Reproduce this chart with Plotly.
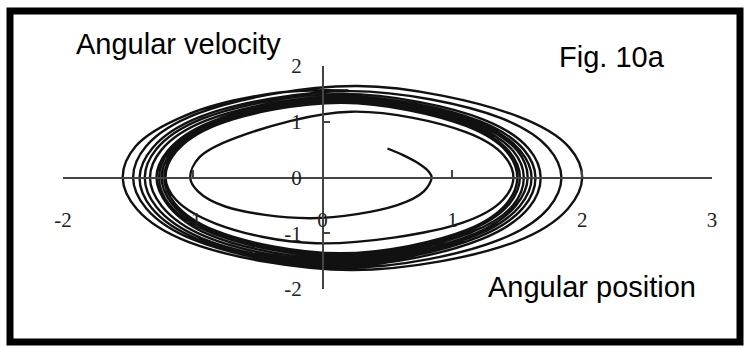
import plotly.graph_objects as go

# Phase-plane trajectory: angular position (x) vs angular velocity (y),
# listed point by point as it spirals outward, clockwise.
start_x = [0.50, 0.62, 0.74, 0.82, 0.84]
start_y = [0.52, 0.40, 0.25, 0.10, 0.00]

loop_x = [
    0.78, 0.57, -0.09, -0.75, -0.96, -1.02,
    -0.95, -0.66, 0.22, 1.11, 1.395, 1.47,
    1.39, 1.08, -0.05, -0.82, -1.13, -1.21,
    -1.13, -0.82, 0.15, 1.11, 1.42, 1.50,
    1.42, 1.11, 0.14, -0.83, -1.14, -1.22,
    -1.14, -0.82, 0.15, 1.12, 1.44, 1.52,
    1.44, 1.12, 0.14, -0.84, -1.16, -1.24,
    -1.16, -0.84, 0.16, 1.15, 1.47, 1.55,
    1.47, 1.14, 0.15, -0.85, -1.18, -1.26,
    -1.18, -0.85, 0.16, 1.17, 1.50, 1.58,
    1.49, 1.17, 0.15, -0.87, -1.19, -1.28,
    -1.19, -0.86, 0.17, 1.19, 1.52, 1.61,
    1.52, 1.18, 0.14, -0.90, -1.24, -1.33,
    -1.24, -0.90, 0.16, 1.21, 1.55, 1.64,
    1.55, 1.20, 0.14, -0.93, -1.28, -1.37,
    -1.28, -0.93, 0.16, 1.24, 1.59, 1.68,
    1.59, 1.23, 0.14, -0.96, -1.32, -1.41,
    -1.31, -0.94, 0.22, 1.37, 1.74, 1.84,
    1.74, 1.36, 0.19, -0.98, -1.36, -1.46,
    -1.36, -0.96, 0.27, 1.50, 1.90, 2.00,
    1.89, 1.49, 0.23, -1.03, -1.43, -1.54,
    -1.44, -1.05, -0.35, 0.20,
]
loop_y = [
    -0.25, -0.50, -0.73, -0.52, -0.25, 0.00,
    0.36, 0.72, 1.18, 0.81, 0.40, 0.00,
    -0.40, -0.81, -1.18, -0.83, -0.40, 0.00,
    0.46, 0.94, 1.34, 0.92, 0.46, 0.00,
    -0.46, -0.94, -1.36, -0.95, -0.46, 0.00,
    0.46, 0.95, 1.36, 0.94, 0.46, 0.00,
    -0.47, -0.96, -1.39, -0.97, -0.47, 0.00,
    0.47, 0.97, 1.38, 0.95, 0.47, 0.00,
    -0.49, -0.99, -1.43, -1.00, -0.49, 0.00,
    0.48, 0.98, 1.40, 0.97, 0.48, 0.00,
    -0.50, -1.01, -1.47, -1.03, -0.50, 0.00,
    0.49, 1.00, 1.43, 0.99, 0.49, 0.00,
    -0.51, -1.04, -1.51, -1.06, -0.51, 0.00,
    0.50, 1.02, 1.46, 1.01, 0.50, 0.00,
    -0.53, -1.07, -1.55, -1.09, -0.53, 0.00,
    0.51, 1.05, 1.50, 1.04, 0.51, 0.00,
    -0.54, -1.10, -1.59, -1.11, -0.54, 0.00,
    0.53, 1.09, 1.55, 1.07, 0.53, 0.00,
    -0.55, -1.12, -1.62, -1.13, -0.55, 0.00,
    0.56, 1.15, 1.64, 1.10, 0.54, 0.00,
    -0.56, -1.15, -1.66, -1.16, -0.57, 0.00,
    0.56, 1.12, 1.52, 1.56,
]

position = start_x + loop_x
velocity = start_y + loop_y

x_ticks = [-2, -1, 0, 1, 2, 3]
y_ticks = [-2, -1, 0, 1, 2]

W, H = 744, 348


def fx(px):
    return px / W


def fy(py):
    return 1 - py / H


X_LEFT, X_RIGHT = 63, 712     # x = -2 .. 3
Y_TOP, Y_BOT = 66, 289        # y = 2 .. -2
ORIGIN_X = X_LEFT + (X_RIGHT - X_LEFT) * 2 / 5
ORIGIN_Y = (Y_TOP + Y_BOT) / 2

fig = go.Figure()
fig.add_trace(go.Scatter(
    x=position, y=velocity, mode="lines",
    line=dict(color="#111111", width=2.4, shape="spline", smoothing=1.0),
    hoverinfo="skip", showlegend=False,
))

tick_font = dict(family="Liberation Serif, DejaVu Serif, serif", size=21, color="#222222")
axis_col = "#444444"

fig.update_layout(
    width=W, height=H,
    margin=dict(l=0, r=0, t=0, b=0, autoexpand=False),
    paper_bgcolor="white", plot_bgcolor="white",
    xaxis=dict(
        range=[-2, 3], domain=[fx(X_LEFT), fx(X_RIGHT)],
        anchor="free", position=fy(ORIGIN_Y), automargin=False,
        showline=True, linecolor=axis_col, linewidth=1.5,
        ticks="inside", ticklen=7, tickwidth=1.5, tickcolor=axis_col,
        tickvals=x_ticks, ticktext=[str(v) for v in x_ticks],
        ticklabelstandoff=24, tickfont=tick_font,
        showgrid=False, zeroline=False,
    ),
    yaxis=dict(
        range=[-2, 2], domain=[fy(Y_BOT), fy(Y_TOP)],
        anchor="free", position=fx(ORIGIN_X), automargin=False,
        showline=True, linecolor=axis_col, linewidth=1.5,
        ticks="inside", ticklen=7, tickwidth=1.5, tickcolor=axis_col,
        tickvals=y_ticks, ticktext=[str(v) for v in y_ticks],
        ticklabelstandoff=16, tickfont=tick_font,
        showgrid=False, zeroline=False,
    ),
)

label_font = dict(family="Liberation Sans, Arial, sans-serif", size=29, color="black")
for text, lx, ly in [("Angular velocity", 74, 44),
                     ("Fig. 10a", 557, 57),
                     ("Angular position", 486, 287)]:
    fig.add_annotation(text=text, x=fx(lx), y=fy(ly),
                       xref="paper", yref="paper", xanchor="left", yanchor="middle",
                       showarrow=False, font=label_font)

# heavy frame round the whole figure
fig.add_shape(type="rect", xref="paper", yref="paper",
              x0=fx(10), x1=fx(740), y0=fy(342), y1=fy(11),
              line=dict(color="black", width=7), fillcolor="rgba(0,0,0,0)")

fig.write_html("out.html")
